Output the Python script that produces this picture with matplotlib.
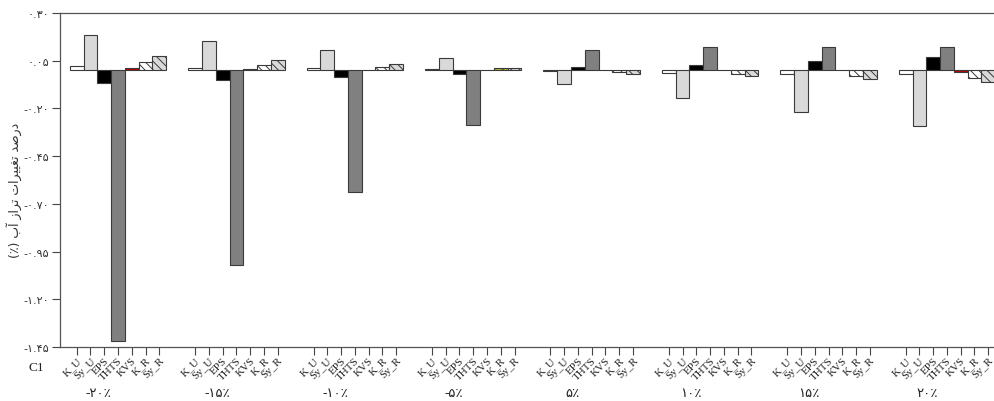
import matplotlib
matplotlib.use("Agg")
import matplotlib.pyplot as plt
import numpy as np

plt.rcParams['hatch.color'] = '#555555'
plt.rcParams['hatch.linewidth'] = 0.7

# ---- data ----
categories = ["K_U", "Sy_U", "EPS", "THTS", "KVS", "K_R", "Sy_R"]
groups = ["-۲۰٪", "-۱۵٪", "-۱۰٪", "-۵٪", "۵٪", "۱۰٪", "۱۵٪", "۲۰٪"]

K_U  = [0.024, 0.014, 0.010, 0.006, -0.003, -0.014, -0.019, -0.019]
Sy_U = [0.187, 0.152, 0.108, 0.064, -0.072, -0.145, -0.220, -0.293]
EPS  = [-0.067, -0.049, -0.037, -0.019, 0.016, 0.030, 0.047, 0.068]
THTS = [-1.42, -1.02, -0.64, -0.287, 0.106, 0.120, 0.124, 0.124]
KVS  = [0.010, 0.006, 0.003, 0.002, 0.001, 0.001, 0.002, -0.010]
K_R  = [0.043, 0.029, 0.017, 0.010, -0.010, -0.018, -0.031, -0.040]
Sy_R = [0.076, 0.052, 0.035, 0.014, -0.019, -0.031, -0.046, -0.063]

yticks = [0.30, 0.05, -0.20, -0.45, -0.70, -0.95, -1.20, -1.45]
ytick_labels = ["۰.۳۰", "۰.۰۵", "-۰.۲۰", "-۰.۴۵", "-۰.۷۰", "-۰.۹۵", "-۱.۲۰", "-۱.۴۵"]

series = [K_U, Sy_U, EPS, THTS, KVS, K_R, Sy_R]

# ---- style ----
faces = ["white", "#d9d9d9", "black", "#808080", "#c00000", "white", "#d9d9d9"]
hatches = [None, None, None, None, None, "\\\\\\\\", "\\\\\\\\"]
overrides = {(3, 0): "#b4b43c", (3, 5): "#b4b43c"}
group_step = 8.6

fig = plt.figure(figsize=(9.95, 4.02), dpi=100)
L = 60 / 995
B = 1 - 348 / 402
T = 1 - 14 / 402
ax = fig.add_axes([L, B, 1 - L, T - B])

tick_pos = []
tick_lab = []
for g in range(len(groups)):
    for i, s in enumerate(series):
        x = g * group_step + i
        fc = overrides.get((g, i), faces[i])
        ax.bar(x, s[g], width=1.0, color=fc, edgecolor="#3a3a3a",
               linewidth=0.8, hatch=hatches[i], zorder=3)
        tick_pos.append(x)
        tick_lab.append(categories[i])
    ax.text(g * group_step + 1.6, -0.138, groups[g], transform=ax.get_xaxis_transform(),
            ha="center", va="center", fontsize=9.5,
            family=["Liberation Serif", "DejaVu Sans"], color="#222222")

ax.set_ylim(-1.45, 0.30)
ax.set_xlim(-1.21, 66.69)
ax.set_yticks(yticks)
ax.set_yticklabels(ytick_labels, family=["DejaVu Sans"], fontsize=8, color="#333333")
ax.set_xticks(tick_pos)
ax.set_xticklabels(tick_lab, rotation=45, ha="right", rotation_mode="anchor",
                   fontsize=8, family=["Liberation Serif", "DejaVu Sans"], color="#222222")
ax.tick_params(axis="x", length=6, width=0.8, color="#444444", pad=0)
ax.tick_params(axis="y", length=6, width=0.8, color="#444444", pad=2)
for side in ["left", "top", "bottom"]:
    ax.spines[side].set_color("#555555")
    ax.spines[side].set_linewidth(0.9)
ax.spines["right"].set_visible(False)

ylabel = "(٪) ﺏﺁ ﺯﺍﺮﺗ ﺕﺍﺮﻴﻴﻐﺗ ﺪﺻﺭﺩ"
fig.text(14 / 995, 1 - 190 / 402, ylabel, rotation=90, ha="center", va="center",
         fontsize=9, family=["DejaVu Sans"], color="#333333")
fig.text(36 / 995, 1 - 368 / 402, "C1", ha="center", va="center", fontsize=9.5,
         family=["Liberation Serif"], color="#222222")

fig.savefig("out.png", dpi=100)
